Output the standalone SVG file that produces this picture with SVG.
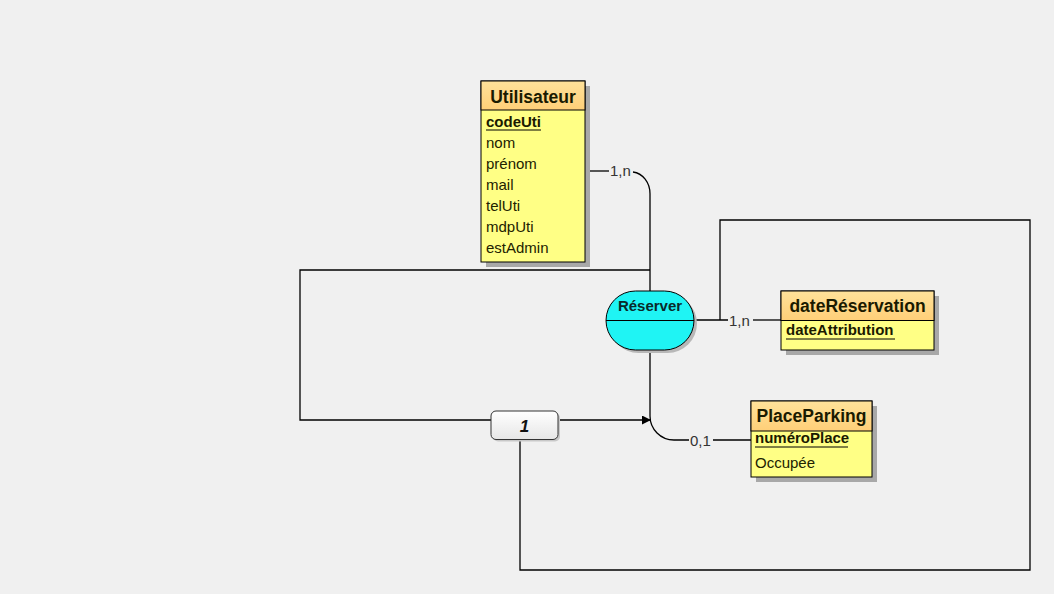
<svg xmlns="http://www.w3.org/2000/svg" width="1054" height="594" viewBox="0 0 1054 594">
<defs>
<linearGradient id="hdr" x1="0" y1="0" x2="0" y2="1">
<stop offset="0" stop-color="#ffe29a"/>
<stop offset="1" stop-color="#ffcf78"/>
</linearGradient>
<linearGradient id="cif" x1="0" y1="0" x2="0" y2="1">
<stop offset="0" stop-color="#ffffff"/>
<stop offset="1" stop-color="#e6e6e6"/>
</linearGradient>
<marker id="arr" viewBox="0 0 10 10" refX="10" refY="5" markerWidth="9" markerHeight="9" markerUnits="userSpaceOnUse" orient="auto">
<path d="M0,0 L10,5 L0,10 z" fill="#000"/>
</marker>
</defs>
<style>
.shadow{fill:#a8a8a8;}
.body{fill:#ffff85;stroke:#000;stroke-width:1;}
.head{fill:url(#hdr);stroke:#000;stroke-width:1;}
.title{font-family:"Liberation Sans",Arial,sans-serif;font-weight:bold;font-size:17.5px;fill:#1a1a00;text-anchor:middle;}
.attr{font-family:"Liberation Sans",Arial,sans-serif;font-size:15px;fill:#222200;}
.key{font-family:"Liberation Sans",Arial,sans-serif;font-size:15px;font-weight:bold;fill:#1a1a00;}
.ul{stroke:#000;stroke-width:1;}
.conn{fill:none;stroke:#000;stroke-width:1.3;}
.card{font-family:"Liberation Sans",Arial,sans-serif;font-size:15px;fill:#333;}
</style>
<rect x="0" y="0" width="1054" height="594" fill="#f0f0f0"/>

<g id="connectors">
<path class="conn" d="M585,171 H609"/>
<text class="card" x="610" y="176">1,n</text>
<path class="conn" d="M633,172 A19,22 0 0 1 650,194 V291"/>
<path class="conn" d="M694,320 H728"/>
<text class="card" x="729" y="326">1,n</text>
<path class="conn" d="M753,320 H781"/>
<path class="conn" d="M650,350 V416 A24,24 0 0 0 674,440 H689"/>
<text class="card" x="690" y="446">0,1</text>
<path class="conn" d="M713,440 H751"/>
<polyline class="conn" points="491,420 300,420 300,270 650,270"/>
<polyline class="conn" points="720,320 720,220 1030,220 1030,570 520,570 520,440"/>
<line class="conn" x1="558" y1="420" x2="651" y2="420" marker-end="url(#arr)"/>
</g>

<g id="Utilisateur">
<rect class="shadow" x="486" y="86" width="104" height="181"/>
<rect class="body" x="481" y="81" width="104" height="181"/>
<rect class="head" x="481" y="81" width="104" height="29"/>
<text class="title" x="533" y="102.5">Utilisateur</text>
<text class="key" x="486" y="127">codeUti</text>
<line class="ul" x1="486" y1="130" x2="541" y2="130"/>
<text class="attr" x="486" y="148">nom</text>
<text class="attr" x="486" y="169">prénom</text>
<text class="attr" x="486" y="190">mail</text>
<text class="attr" x="486" y="211">telUti</text>
<text class="attr" x="486" y="232">mdpUti</text>
<text class="attr" x="486" y="253">estAdmin</text>
</g>

<g id="Reserver">
<rect x="609" y="294" width="88" height="59" rx="29.5" ry="29.5" fill="#b8b8b8"/>
<rect x="606" y="291" width="88" height="59" rx="29.5" ry="29.5" fill="#1ff4f4" stroke="#000" stroke-width="1"/>
<line x1="606" y1="320.5" x2="694" y2="320.5" stroke="#000" stroke-width="1"/>
<text x="650" y="311" font-family="Liberation Sans, Arial, sans-serif" font-weight="bold" font-size="15" fill="#0a2a2a" text-anchor="middle">Réserver</text>
</g>

<g id="dateReservation">
<rect class="shadow" x="786" y="296" width="153" height="59"/>
<rect class="body" x="781" y="291" width="153" height="59"/>
<rect class="head" x="781" y="291" width="153" height="29.5"/>
<text class="title" x="857.5" y="312">dateRéservation</text>
<text class="key" x="786" y="335">dateAttribution</text>
<line class="ul" x1="786" y1="339" x2="895" y2="339"/>
</g>

<g id="PlaceParking">
<rect class="shadow" x="756" y="406" width="121" height="76"/>
<rect class="body" x="751" y="401" width="121" height="76"/>
<rect class="head" x="751" y="401" width="121" height="30"/>
<text class="title" x="811.5" y="422">PlaceParking</text>
<text class="key" x="755" y="443">numéroPlace</text>
<line class="ul" x1="755" y1="447" x2="848" y2="447"/>
<text class="attr" x="755" y="468">Occupée</text>
</g>

<g id="cif1">
<rect x="493" y="413" width="67" height="28.5" rx="5" fill="#c8c8c8"/>
<rect x="491" y="411" width="67" height="28.5" rx="5" fill="url(#cif)" stroke="#333" stroke-width="1"/>
<text x="524.5" y="432" font-family="Liberation Sans, Arial, sans-serif" font-weight="bold" font-style="italic" font-size="17" fill="#111" text-anchor="middle">1</text>
</g>
</svg>
